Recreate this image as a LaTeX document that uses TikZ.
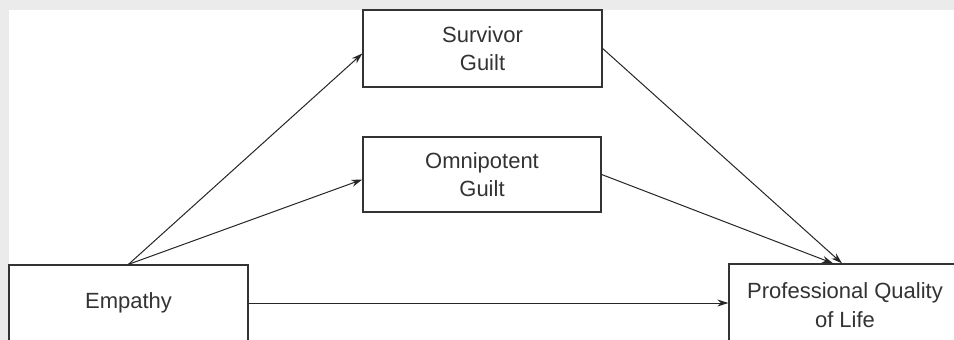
\documentclass[tikz,border=0pt]{standalone}
\usepackage{fontspec}
\setmainfont{Liberation Sans}
\usetikzlibrary{arrows.meta}
\definecolor{framegray}{HTML}{EBEBEB}
\definecolor{ink}{HTML}{333333}
\begin{document}
\begin{tikzpicture}[x=1pt,y=-1pt,
  varbox/.style={draw=ink, line width=1.3pt, fill=white, align=center,
    text=ink, inner sep=0pt, font=\fontsize{22}{28.5}\selectfont},
  path/.style={draw=black!85, line width=1pt,
    -{Stealth[length=11pt,width=7pt]}}]
  % canvas: grey frame with the white drawing area
  \useasboundingbox (0,0) rectangle (954,340);
  \clip (0,0) rectangle (954,340);
  \fill[framegray] (0,0) rectangle (954,340);
  \fill[white] (9,10) rectangle (954,340);

  % variables
  \node[varbox, minimum width=239pt, minimum height=77pt] (surv) at (482.5,48.5) {Survivor\\Guilt};
  \node[varbox, minimum width=238pt, minimum height=75pt] (omni) at (482,174.5) {Omnipotent\\Guilt};
  \node[varbox, minimum width=239pt, minimum height=76pt] (emp) at (128.5,303) {Empathy};
  \node[varbox, minimum width=232pt, minimum height=82pt] (prof) at (845,305) {Professional Quality\\of Life};

  % paths
  \draw[path] (emp.north) -- ([yshift=-5pt]surv.west);
  \draw[path] (emp.north) -- ([yshift=-5pt]omni.west);
  \draw[path] (emp.east) -- (emp.east -| prof.west);
  \draw[path] (surv.east) -- ([xshift=-3pt]prof.north);
  \draw[path] (omni.east) -- ([xshift=-12pt]prof.north);
\end{tikzpicture}
\end{document}
